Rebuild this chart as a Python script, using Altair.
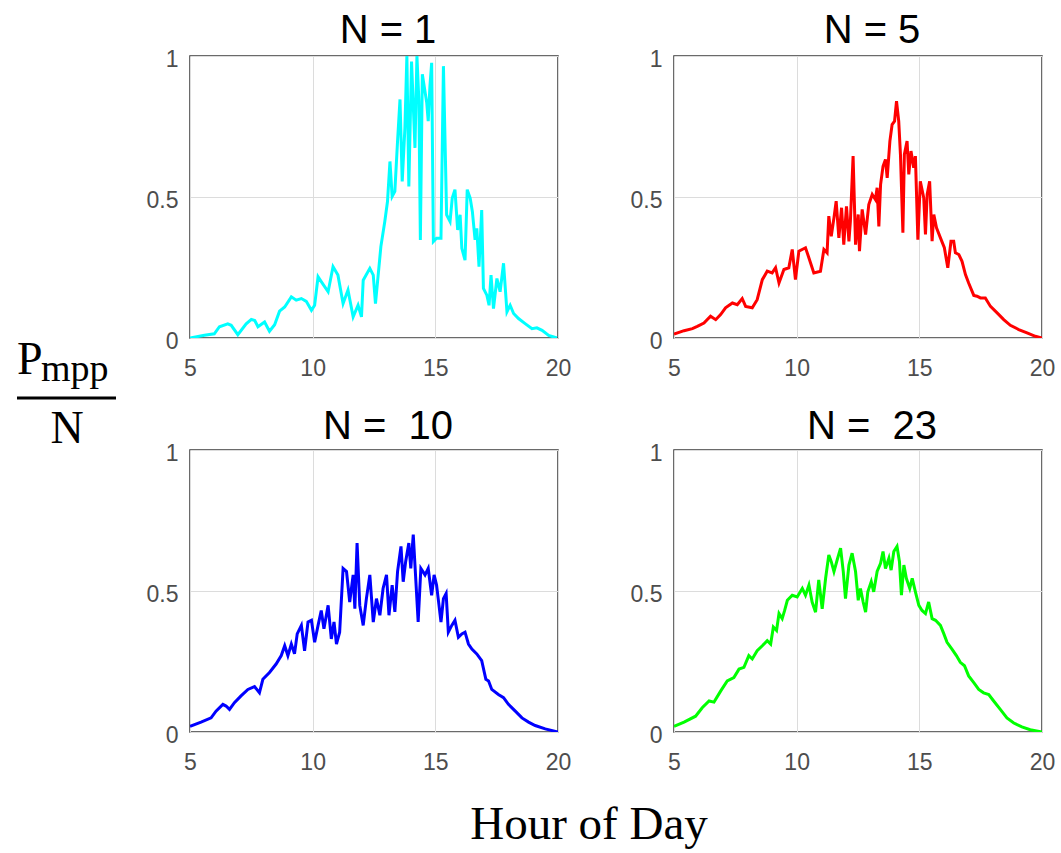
import altair as alt
import pandas as pd

# ---- data (hour of day, Pmpp/N) ----
hours_n1 = [5.0, 5.59, 5.99, 6.2, 6.54, 6.68, 6.95, 7.29, 7.5, 7.64, 7.77, 8.04, 8.24, 8.45, 8.65, 8.86,
            9.13, 9.33, 9.54, 9.74, 9.95, 10.08, 10.22, 10.35, 10.63, 10.83, 11.03, 11.24, 11.44, 11.65,
            11.85, 11.99, 12.06, 12.33, 12.47, 12.56, 12.78, 12.94, 13.05, 13.15, 13.24, 13.35, 13.46,
            13.56, 13.65, 13.76, 13.84, 13.92, 14.03, 14.17, 14.25, 14.33, 14.39, 14.47, 14.65, 14.71,
            14.78, 14.85, 14.92, 15.05, 15.23, 15.33, 15.46, 15.6, 15.69, 15.8, 15.91, 16.01, 16.08,
            16.21, 16.3, 16.42, 16.51, 16.62, 16.69, 16.78, 16.89, 16.96, 17.1, 17.19, 17.27, 17.37,
            17.51, 17.64, 17.78, 17.92, 18.05, 18.19, 18.39, 18.66, 18.94, 19.14, 19.35, 19.62, 19.96]
vals_n1 = [0.0, 0.01, 0.015, 0.04, 0.05, 0.045, 0.012, 0.05, 0.066, 0.062, 0.04, 0.057, 0.024, 0.047,
           0.095, 0.11, 0.146, 0.134, 0.14, 0.13, 0.098, 0.116, 0.217, 0.2, 0.164, 0.253, 0.223, 0.122,
           0.17, 0.075, 0.116, 0.075, 0.205, 0.247, 0.223, 0.122, 0.324, 0.413, 0.484, 0.626, 0.502,
           0.52, 0.698, 0.846, 0.555, 0.745, 1.0, 0.537, 0.98, 0.674, 1.0, 0.84, 0.348, 0.935, 0.834,
           0.769, 0.893, 0.976, 0.342, 0.354, 0.354, 0.964, 0.437, 0.413, 0.496, 0.526, 0.383, 0.437,
           0.318, 0.276, 0.526, 0.496, 0.448, 0.348, 0.389, 0.253, 0.454, 0.176, 0.152, 0.116, 0.223,
           0.104, 0.211, 0.164, 0.265, 0.093, 0.116, 0.087, 0.069, 0.051, 0.033, 0.036, 0.027, 0.009, 0.0]

hours_n5 = [5.0, 5.41, 5.75, 5.95, 6.22, 6.49, 6.7, 6.9, 7.1, 7.38, 7.58, 7.78, 7.92, 8.19, 8.39, 8.6,
            8.8, 9.0, 9.14, 9.28, 9.48, 9.68, 9.82, 9.95, 10.09, 10.36, 10.5, 10.7, 10.97, 11.11, 11.24,
            11.31, 11.41, 11.52, 11.61, 11.72, 11.83, 11.92, 12.03, 12.13, 12.19, 12.3, 12.4, 12.51,
            12.56, 12.67, 12.81, 12.94, 13.08, 13.21, 13.28, 13.35, 13.42, 13.52, 13.62, 13.69, 13.8,
            13.89, 13.99, 14.07, 14.16, 14.23, 14.33, 14.39, 14.5, 14.57, 14.66, 14.77, 14.84, 14.94,
            15.04, 15.18, 15.25, 15.32, 15.42, 15.52, 15.59, 15.7, 15.86, 16.02, 16.16, 16.29, 16.4,
            16.47, 16.61, 16.74, 16.88, 17.01, 17.22, 17.35, 17.49, 17.69, 17.9, 18.17, 18.44, 18.71,
            19.05, 19.39, 19.73, 20.0]
vals_n5 = [0.014, 0.026, 0.033, 0.041, 0.053, 0.077, 0.065, 0.083, 0.107, 0.124, 0.118, 0.14, 0.112,
           0.107, 0.136, 0.207, 0.237, 0.231, 0.249, 0.195, 0.243, 0.249, 0.314, 0.207, 0.308, 0.32,
           0.284, 0.231, 0.237, 0.314, 0.302, 0.432, 0.361, 0.426, 0.485, 0.355, 0.462, 0.331, 0.467,
           0.343, 0.414, 0.645, 0.331, 0.438, 0.308, 0.456, 0.367, 0.473, 0.509, 0.491, 0.533, 0.396,
           0.544, 0.609, 0.633, 0.568, 0.698, 0.757, 0.769, 0.84, 0.769, 0.651, 0.373, 0.651, 0.698,
           0.58, 0.663, 0.604, 0.645, 0.349, 0.556, 0.497, 0.367, 0.509, 0.556, 0.343, 0.438, 0.391,
           0.355, 0.32, 0.249, 0.343, 0.343, 0.302, 0.296, 0.272, 0.225, 0.195, 0.151, 0.148, 0.142,
           0.142, 0.112, 0.089, 0.065, 0.045, 0.03, 0.018, 0.006, 0.0]

hours_n10 = [5.0, 5.45, 5.86, 6.06, 6.34, 6.47, 6.61, 6.81, 7.08, 7.36, 7.63, 7.83, 7.97, 8.24, 8.51,
             8.72, 8.86, 8.99, 9.13, 9.26, 9.37, 9.54, 9.67, 9.81, 9.95, 10.08, 10.22, 10.35, 10.46,
             10.63, 10.76, 10.87, 10.97, 11.1, 11.24, 11.38, 11.51, 11.65, 11.72, 11.81, 11.92, 12.06,
             12.19, 12.33, 12.47, 12.6, 12.74, 12.87, 13.01, 13.11, 13.24, 13.35, 13.46, 13.6, 13.69,
             13.79, 13.92, 14.0, 14.1, 14.17, 14.3, 14.41, 14.58, 14.71, 14.85, 14.95, 15.05, 15.15,
             15.23, 15.33, 15.44, 15.53, 15.67, 15.8, 15.94, 16.08, 16.21, 16.35, 16.49, 16.69, 16.89,
             17.06, 17.17, 17.3, 17.57, 17.78, 17.98, 18.26, 18.53, 18.8, 19.07, 19.48, 20.0]
vals_n10 = [0.02, 0.035, 0.05, 0.074, 0.098, 0.092, 0.08, 0.104, 0.128, 0.151, 0.161, 0.139, 0.187,
            0.211, 0.241, 0.271, 0.306, 0.271, 0.312, 0.277, 0.348, 0.378, 0.288, 0.39, 0.396, 0.318,
            0.378, 0.431, 0.366, 0.449, 0.33, 0.39, 0.312, 0.354, 0.58, 0.569, 0.461, 0.557, 0.437,
            0.67, 0.449, 0.378, 0.473, 0.557, 0.39, 0.473, 0.414, 0.509, 0.557, 0.414, 0.521, 0.426,
            0.569, 0.658, 0.533, 0.604, 0.67, 0.58, 0.7, 0.592, 0.39, 0.58, 0.557, 0.58, 0.485, 0.557,
            0.521, 0.449, 0.39, 0.473, 0.491, 0.354, 0.378, 0.396, 0.336, 0.348, 0.354, 0.312, 0.294,
            0.277, 0.253, 0.187, 0.181, 0.151, 0.133, 0.122, 0.098, 0.074, 0.05, 0.035, 0.023, 0.011,
            0.0]

hours_n23 = [5.0, 5.41, 5.88, 6.15, 6.43, 6.63, 6.9, 7.17, 7.44, 7.65, 7.85, 8.05, 8.19, 8.39, 8.6,
             8.8, 8.94, 9.05, 9.18, 9.28, 9.41, 9.51, 9.62, 9.82, 10.02, 10.23, 10.36, 10.5, 10.63,
             10.77, 10.9, 11.04, 11.18, 11.31, 11.41, 11.52, 11.65, 11.79, 11.9, 11.99, 12.13, 12.26,
             12.4, 12.51, 12.6, 12.71, 12.81, 12.9, 13.04, 13.14, 13.28, 13.42, 13.52, 13.62, 13.76,
             13.85, 13.96, 14.09, 14.19, 14.27, 14.37, 14.47, 14.61, 14.71, 14.84, 14.98, 15.11, 15.25,
             15.38, 15.52, 15.66, 15.86, 16.0, 16.13, 16.33, 16.51, 16.67, 16.84, 17.01, 17.22, 17.42,
             17.62, 17.83, 18.03, 18.3, 18.57, 18.85, 19.18, 19.52, 20.0]
vals_n23 = [0.02, 0.035, 0.056, 0.086, 0.11, 0.106, 0.145, 0.181, 0.193, 0.223, 0.229, 0.271, 0.259,
            0.288, 0.306, 0.324, 0.312, 0.372, 0.36, 0.42, 0.402, 0.431, 0.467, 0.485, 0.479, 0.509,
            0.485, 0.521, 0.461, 0.425, 0.539, 0.437, 0.545, 0.628, 0.604, 0.569, 0.61, 0.652, 0.569,
            0.473, 0.592, 0.634, 0.569, 0.467, 0.509, 0.461, 0.425, 0.497, 0.533, 0.497, 0.569, 0.598,
            0.64, 0.58, 0.616, 0.574, 0.64, 0.658, 0.604, 0.485, 0.592, 0.545, 0.509, 0.545, 0.497,
            0.449, 0.431, 0.42, 0.461, 0.402, 0.396, 0.378, 0.348, 0.318, 0.294, 0.271, 0.247, 0.235,
            0.199, 0.175, 0.151, 0.139, 0.133, 0.11, 0.08, 0.05, 0.032, 0.018, 0.008, 0.0]

titles = ["N = 1", "N = 5", "N = \u00a010", "N = \u00a023"]
colors = ["#00ffff", "#ff0000", "#0000ff", "#00ff00"]
x_ticks = [5, 10, 15, 20]
y_ticks = [0, 0.5, 1]

W, H = 368, 282
SANS = "Liberation Sans"
SERIF = "Liberation Serif"


def text_layer(label, x, y, size, align="left", font=SERIF):
    return alt.Chart(pd.DataFrame({"t": [label]})).mark_text(
        font=font, fontSize=size, align=align, baseline="alphabetic", color="black"
    ).encode(text="t:N", x=alt.value(x), y=alt.value(y))


def panel(hours, vals, title, color, title_y, extras=()):
    df = pd.DataFrame({"hour": hours, "p": vals})
    line = alt.Chart(df).mark_line(color=color, strokeWidth=3, clip=True).encode(
        x=alt.X("hour:Q", scale=alt.Scale(domain=[5, 20], nice=False, zero=False),
                axis=alt.Axis(values=x_ticks, title=None, labelPadding=19, labelFlush=False)),
        y=alt.Y("p:Q", scale=alt.Scale(domain=[0, 1], nice=False),
                axis=alt.Axis(values=y_ticks, title=None, format="~g", labelPadding=12,
                              labelOffset=3)),
    )
    ttl = text_layer(title, W / 2 + 14, title_y, 40, align="center", font=SANS)
    return alt.layer(line, ttl, *extras).properties(width=W, height=H)


# annotations (axis labels of the whole figure), placed relative to the first panel
anchor = alt.Chart(pd.DataFrame({"a": [0]})).mark_rule(strokeOpacity=0, strokeWidth=0.5).encode(
    x=alt.value(-189), x2=alt.value(-188), y=alt.value(-55))
frac_line = alt.Chart(pd.DataFrame({"a": [0]})).mark_rule(color="black", strokeWidth=3).encode(
    x=alt.value(-173), x2=alt.value(-74), y=alt.value(342))
extras = [
    anchor,
    text_layer("P", -173, 318, 46),
    text_layer("mpp", -149, 325, 38),
    frac_line,
    text_layer("N", -123, 387, 46, align="center"),
    text_layer("Hour of Day", 399, 783, 47, align="center"),
]

p1 = panel(hours_n1, vals_n1, titles[0], colors[0], -13, extras)
p2 = panel(hours_n5, vals_n5, titles[1], colors[1], -13)
p3 = panel(hours_n10, vals_n10, titles[2], colors[2], -11)
p4 = panel(hours_n23, vals_n23, titles[3], colors[3], -11)

chart = alt.concat(p1, p2, p3, p4, columns=2, spacing={"row": 112, "column": 116},
                   bounds="flush").properties(padding=0, background="white").configure_view(
    stroke="#3a3a3a", strokeWidth=1.5
).configure_axis(
    labelFont=SANS, labelFontSize=23, labelColor="#4d4d4d", domain=False, ticks=False,
    grid=True, gridColor="#dcdcdc", gridWidth=1
)

chart.save("out.html", embed_options={"renderer": "svg", "actions": False})
